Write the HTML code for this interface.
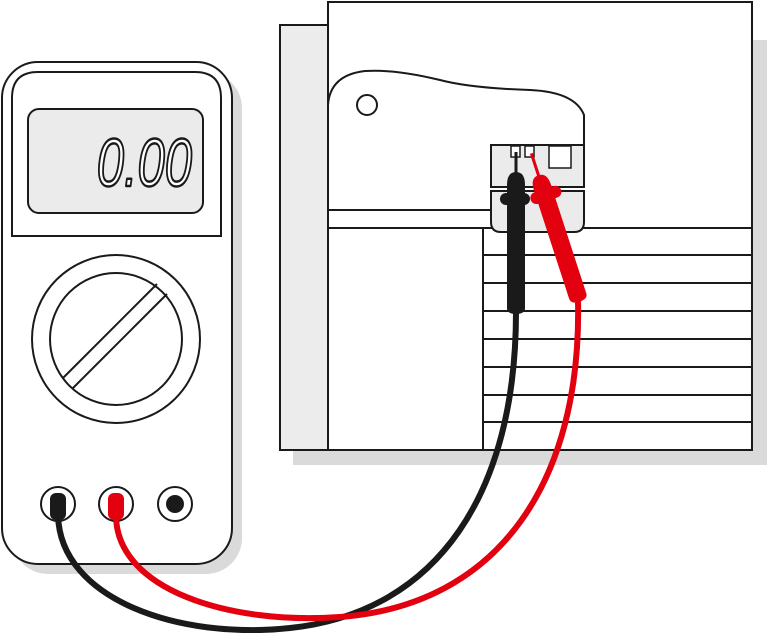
<!DOCTYPE html>
<html><head><style>html,body{margin:0;padding:0;background:#fff;}svg{display:block}</style></head>
<body>
<svg width="767" height="633" viewBox="0 0 767 633" xmlns="http://www.w3.org/2000/svg">
<!-- multimeter shadow -->
<rect x="12" y="72" width="230" height="502" rx="36" fill="#dadada"/>
<rect x="2" y="62" width="230" height="502" rx="36" fill="#fff" stroke="#1a1a1a" stroke-width="2"/>
<path d="M12,236 L12,98 Q12,72 38,72 L195,72 Q221,72 221,98 L221,236 Z" fill="#fff" stroke="#1a1a1a" stroke-width="2"/>
<rect x="28" y="109" width="175" height="104" rx="11" fill="#ebebeb" stroke="#1a1a1a" stroke-width="2"/>
<g transform="translate(192,186) scale(0.72,1)">
<text x="0" y="0" text-anchor="end" font-family="Liberation Sans, sans-serif" font-style="italic" font-size="68" fill="#fff" stroke="#1a1a1a" stroke-width="2.5" stroke-linejoin="round">0.00</text>
</g>
<circle cx="116" cy="339" r="84" fill="#fff" stroke="#1a1a1a" stroke-width="2"/>
<circle cx="116" cy="339" r="66" fill="#fff" stroke="#1a1a1a" stroke-width="2"/>
<line x1="63" y1="378" x2="157" y2="284" stroke="#1a1a1a" stroke-width="2"/>
<line x1="73" y1="388" x2="167" y2="294" stroke="#1a1a1a" stroke-width="2"/>
<circle cx="58" cy="504" r="17" fill="#fff" stroke="#1a1a1a" stroke-width="2"/>
<circle cx="116" cy="504" r="17" fill="#fff" stroke="#1a1a1a" stroke-width="2"/>
<circle cx="175" cy="504" r="17" fill="#fff" stroke="#1a1a1a" stroke-width="2"/>
<circle cx="175" cy="504" r="9" fill="#1a1a1a"/>

<!-- right panel -->
<rect x="293" y="40" width="474" height="425" fill="#dadada"/>
<rect x="280" y="25" width="50" height="425" fill="#ececec" stroke="#1a1a1a" stroke-width="2"/>
<rect x="328" y="2" width="424" height="448" fill="#fff" stroke="#1a1a1a" stroke-width="2"/>
<line x1="483" y1="228" x2="483" y2="450" stroke="#1a1a1a" stroke-width="2"/>
<g stroke="#1a1a1a" stroke-width="2">
<line x1="483" y1="255" x2="752" y2="255"/><line x1="483" y1="283" x2="752" y2="283"/>
<line x1="483" y1="311" x2="752" y2="311"/><line x1="483" y1="339" x2="752" y2="339"/>
<line x1="483" y1="367" x2="752" y2="367"/><line x1="483" y1="395" x2="752" y2="395"/>
<line x1="483" y1="422" x2="752" y2="422"/>
</g>
<path d="M328,210 L328,105 Q330,75 365,71 Q395,69 440,80 Q470,88 530,90 Q575,92 584,115 L584,145" fill="#fff" stroke="#1a1a1a" stroke-width="2"/>
<line x1="328" y1="210" x2="491" y2="210" stroke="#1a1a1a" stroke-width="2"/>
<line x1="328" y1="228" x2="752" y2="228" stroke="#1a1a1a" stroke-width="2"/>
<circle cx="367" cy="105" r="10" fill="#fff" stroke="#1a1a1a" stroke-width="2"/>
<rect x="491" y="145" width="93" height="42" fill="#ebebeb" stroke="#1a1a1a" stroke-width="2"/>
<path d="M491,191 L584,191 L584,222 Q584,232 574,232 L501,232 Q491,232 491,222 Z" fill="#ebebeb" stroke="#1a1a1a" stroke-width="2"/>
<rect x="511" y="146" width="9" height="11" fill="#fff" stroke="#1a1a1a" stroke-width="1.5"/>
<rect x="525" y="146" width="9" height="11" fill="#fff" stroke="#1a1a1a" stroke-width="1.5"/>
<rect x="549" y="146" width="22" height="22" fill="#fff" stroke="#1a1a1a" stroke-width="1.5"/>

<!-- wires -->
<path d="M58,515 C60,600 180,640 290,628 C440,612 516,490 516,312" fill="none" stroke="#1a1a1a" stroke-width="6"/>
<path d="M116,515 C116,590 230,625 340,617 C500,605 582,480 578,300" fill="none" stroke="#e3000f" stroke-width="6"/>
<rect x="50" y="493" width="16" height="27" rx="6" fill="#1a1a1a"/>
<rect x="108" y="493" width="16" height="27" rx="6" fill="#e3000f"/>

<!-- black probe -->
<line x1="516" y1="152" x2="516" y2="180" stroke="#1a1a1a" stroke-width="3"/>
<path d="M507,185 Q507,172 516,172 Q525,172 525,185 L525,308 Q525,314 516,314 Q507,314 507,308 Z" fill="#1a1a1a"/>
<rect x="500" y="193" width="30" height="12" rx="6" fill="#1a1a1a"/>
<!-- red probe -->
<g transform="rotate(-18 540 180)">
<line x1="540" y1="152" x2="540" y2="185" stroke="#e3000f" stroke-width="3"/>
<path d="M531,188 Q531,175 540,175 Q549,175 549,188 L549,302 Q549,308 540,308 Q531,308 531,302 Z" fill="#e3000f"/>
<rect x="525" y="190" width="32" height="12" rx="6" fill="#e3000f"/>
</g>
</svg>
</body></html>
